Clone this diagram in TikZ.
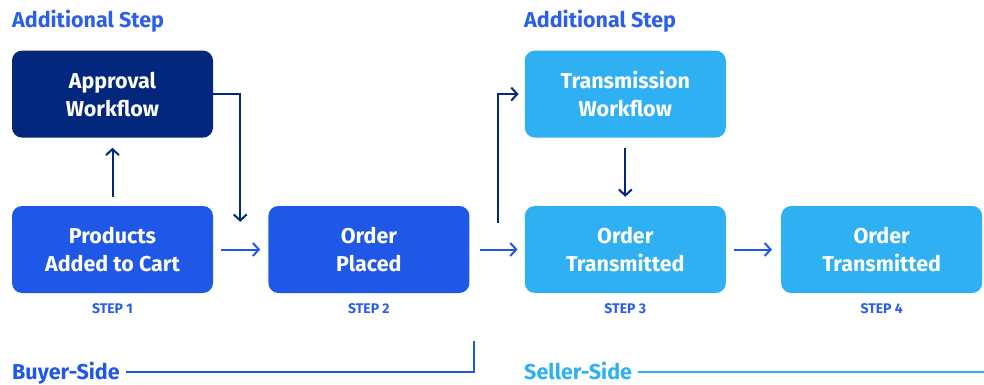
\documentclass[tikz,border=0pt]{standalone}
\usepackage{fontspec}
\setmainfont{Fira Sans}
\usepackage{xcolor}
\usetikzlibrary{positioning,arrows.meta}

\definecolor{navy}{HTML}{04277E}
\definecolor{royal}{HTML}{1F58E6}
\definecolor{sky}{HTML}{2FB0F2}
\definecolor{labelblue}{HTML}{2B5FE6}

\begin{document}
\begin{tikzpicture}[
    x=1pt, y=-1pt,
    node distance=55pt and 55pt,
    block/.style={rectangle, rounded corners=10pt, minimum width=201pt, minimum height=87pt, inner sep=0pt, align=center, text=white, font=\fontsize{21.5}{28}\selectfont\bfseries},
    heading/.style={anchor=base west, inner sep=0pt, font=\fontsize{21.5}{24}\selectfont\bfseries},
    steplabel/.style={inner sep=0pt, text=labelblue, font=\fontsize{14}{16}\selectfont\bfseries},
    arrow/.style={-{Straight Barb[length=6pt,width=13pt]}, line width=2pt},
    sideline/.style={line width=2pt}
]
\useasboundingbox (0,0) rectangle (984,385);

% main row of steps
\node[block, fill=royal] (products) at (112.5,249.5) {Products\\Added to Cart};
\node[block, fill=royal, right=55pt of products] (placed) {Order\\Placed};
\node[block, fill=sky, right=55pt of placed] (transmitted) {Order\\Transmitted};
\node[block, fill=sky, right=55pt of transmitted] (final) {Order\\Transmitted};

% additional steps
\node[block, fill=navy, above=68pt of products] (approval) {Approval\\Workflow};
\node[block, fill=sky, above=68pt of transmitted] (transmission) {Transmission\\Workflow};
\node[heading, text=labelblue] (extra1) at (12,28) {Additional Step};
\node[heading, text=labelblue] (extra2) at (524,28) {Additional Step};

% step numbers
\node[steplabel, below=10pt of products] (step1) {STEP 1};
\node[steplabel, below=10pt of placed] (step2) {STEP 2};
\node[steplabel, below=10pt of transmitted] (step3) {STEP 3};
\node[steplabel, below=10pt of final] (step4) {STEP 4};

% sides
\node[heading, text=royal] (buyer) at (12,379) {Buyer-Side};
\node[heading, text=sky] (seller) at (524,379) {Seller-Side};
\coordinate (buyerend) at (474,341);
\coordinate (sellerend) at (984,372);
\draw[sideline, royal] ([xshift=6pt,yshift=7pt]buyer.base east) -| (buyerend);
\draw[sideline, sky] ([xshift=6pt,yshift=7pt]seller.base east) -- (sellerend);

% connectors
\draw[arrow, navy] ([yshift=9pt]products.north) -- ([yshift=-10pt]approval.south);
\draw[arrow, navy] (approval.east) -| ([xshift=-28pt,yshift=-16pt]placed.north west);
\draw[arrow, royal] ([xshift=8pt]products.east) -- ([xshift=-8pt]placed.west);
\draw[arrow, navy] ([xshift=28pt,yshift=-17pt]placed.north east) |- ([xshift=-6pt]transmission.west);
\draw[arrow, royal] ([xshift=10pt]placed.east) -- ([xshift=-7pt]transmitted.west);
\draw[arrow, navy] ([yshift=-10pt]transmission.south) -- ([yshift=9pt]transmitted.north);
\draw[arrow, royal] ([xshift=8pt]transmitted.east) -- ([xshift=-9pt]final.west);
\end{tikzpicture}
\end{document}
